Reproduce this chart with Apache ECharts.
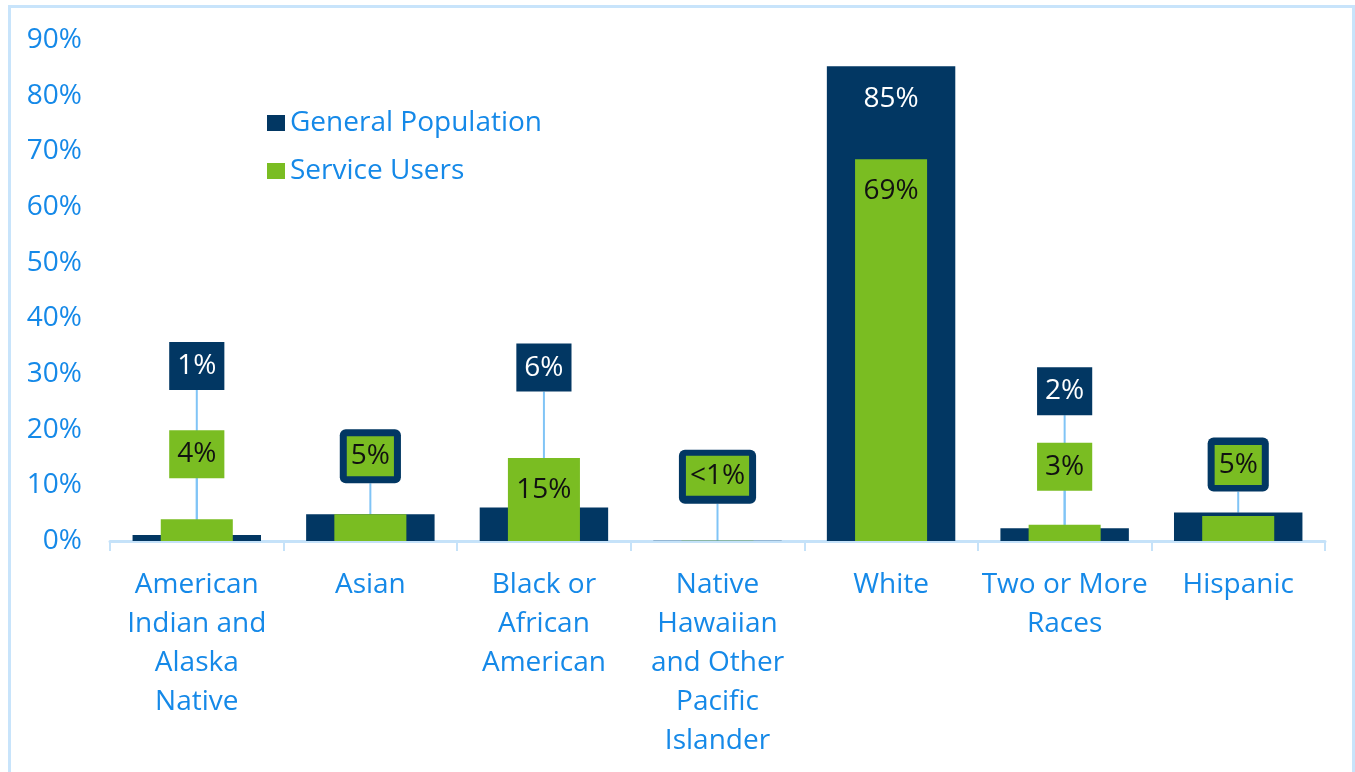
<!DOCTYPE html>
<html>
<head>
<meta charset="utf-8">
<script src="https://cdn.jsdelivr.net/npm/echarts@6/dist/echarts.min.js"></script>
<style>
  html, body { margin: 0; padding: 0; background: #ffffff; overflow: hidden; }
  #frame { position: absolute; left: 8px; top: 5px; width: 1347px; height: 800px; border: 3px solid #c8e4fb; box-sizing: border-box; }
  #chart { position: absolute; left: 0; top: 0; width: 1355px; height: 772px; }
</style>
</head>
<body>
<div id="frame"></div>
<div id="chart"></div>
<script>
// ---- data ----
const categories = [
  'American\nIndian and\nAlaska\nNative',
  'Asian',
  'Black or\nAfrican\nAmerican',
  'Native\nHawaiian\nand Other\nPacific\nIslander',
  'White',
  'Two or More\nRaces',
  'Hispanic'
];
const generalPopulation = [1.1, 4.8, 6.0, 0.05, 85.3, 2.3, 5.1];
const serviceUsers      = [3.9, 4.8, 14.9, 0.05, 68.6, 2.9, 4.5];
const generalLabels = ['1%', '5%', '6%', '<1%', '85%', '2%', '5%'];
const serviceLabels = ['4%', '5%', '15%', '<1%', '69%', '3%', '5%'];
const yTicks = [0, 10, 20, 30, 40, 50, 60, 70, 80, 90];

// ---- styles ----
const NAVY = '#023763';
const GREEN = '#7abd22';
const BLUE_TEXT = '#1589e8';
const AXIS_BLUE = '#c5e2f9';
const LEADER = '#80c4f6';
const FONT = '"Open Sans", "Noto Sans", sans-serif';
const FS = 28;

// label kind per category: 'box' = own box, 'combo' = merged box, 'inside' = in bar
const genKind = ['box', 'combo', 'box', 'combo', 'inside', 'box', 'combo'];
const svcKind = ['box', 'combo', 'inside', 'combo', 'inside', 'box', 'combo'];
// distance (px) from bar top to label centre for moved labels
const genLift = [169, 58, 140, 64, null, 137, 48];
const svcLift = [65, 58, null, 65, null, 58, 51];

function genLabel(i) {
  const base = { show: true, formatter: generalLabels[i], fontFamily: FONT, fontSize: FS, lineHeight: 32, color: '#ffffff' };
  if (genKind[i] === 'inside') return Object.assign(base, { position: 'insideTop', distance: 9, padding: [8, 8] });
  if (genKind[i] === 'combo') return Object.assign(base, { position: 'top', backgroundColor: NAVY, padding: [11, 11], borderRadius: 6 });
  return Object.assign(base, { position: 'top', backgroundColor: NAVY, padding: [8, 8] });
}
function svcLabel(i) {
  const base = { show: true, formatter: serviceLabels[i], fontFamily: FONT, fontSize: FS, lineHeight: 32, color: '#111111' };
  if (svcKind[i] === 'inside') return Object.assign(base, { position: 'insideTop', distance: 8, padding: [8, 8] });
  if (svcKind[i] === 'combo') return Object.assign(base, { position: 'top', backgroundColor: GREEN, padding: [4, 4] });
  return Object.assign(base, { position: 'top', backgroundColor: GREEN, padding: [8, 8] });
}
function layoutFor(lift) {
  return function (params) {
    const L = lift[params.dataIndex];
    if (L == null) return {};
    const cy = params.labelRect.y + params.labelRect.height / 2;
    return { dy: (params.rect.y - L) - cy };
  };
}

const chart = echarts.init(document.getElementById('chart'), null, { renderer: 'canvas' });

const xAxisBase = {
  type: 'category',
  data: categories,
  axisLine: { show: true, lineStyle: { color: AXIS_BLUE, width: 3 } },
  axisTick: { show: true, length: 10, lineStyle: { color: AXIS_BLUE, width: 2 } },
  axisLabel: { color: BLUE_TEXT, fontFamily: FONT, fontSize: FS, lineHeight: 39, margin: 25, interval: 0 }
};

chart.setOption({
  animation: false,
  backgroundColor: 'transparent',
  grid: { left: 110, right: 30, top: 40, bottom: 231, containLabel: false },
  legend: {
    orient: 'vertical',
    left: 267,
    top: 108,
    padding: 0,
    itemWidth: 18,
    itemHeight: 16,
    itemGap: 18,
    icon: 'rect',
    textStyle: { color: BLUE_TEXT, fontFamily: FONT, fontSize: FS, lineHeight: 30 },
    data: ['General Population', 'Service Users']
  },
  xAxis: [
    xAxisBase,
    Object.assign({}, xAxisBase, { show: false })
  ],
  yAxis: {
    type: 'value',
    min: 0,
    max: yTicks[yTicks.length - 1],
    interval: 10,
    axisLine: { show: false },
    axisTick: { show: false },
    splitLine: { show: false },
    axisLabel: { color: BLUE_TEXT, fontFamily: FONT, fontSize: FS, margin: 28, formatter: '{value}%' }
  },
  series: [
    {
      name: 'General Population',
      type: 'bar',
      xAxisIndex: 0,
      barWidth: '74%',
      itemStyle: { color: NAVY },
      data: generalPopulation.map((v, i) => ({ value: v, label: genLabel(i) })),
      labelLine: { show: true, lineStyle: { color: LEADER, width: 2 } },
      labelLayout: layoutFor(genLift)
    },
    {
      name: 'Service Users',
      type: 'bar',
      xAxisIndex: 1,
      barWidth: '41.5%',
      itemStyle: { color: GREEN },
      data: serviceUsers.map((v, i) => ({
        value: v,
        label: svcLabel(i),
        labelLine: { show: svcKind[i] === 'box', lineStyle: { color: LEADER, width: 2 } }
      })),
      labelLine: { show: true, lineStyle: { color: LEADER, width: 2 } },
      labelLayout: layoutFor(svcLift)
    }
  ]
});
</script>
</body>
</html>
